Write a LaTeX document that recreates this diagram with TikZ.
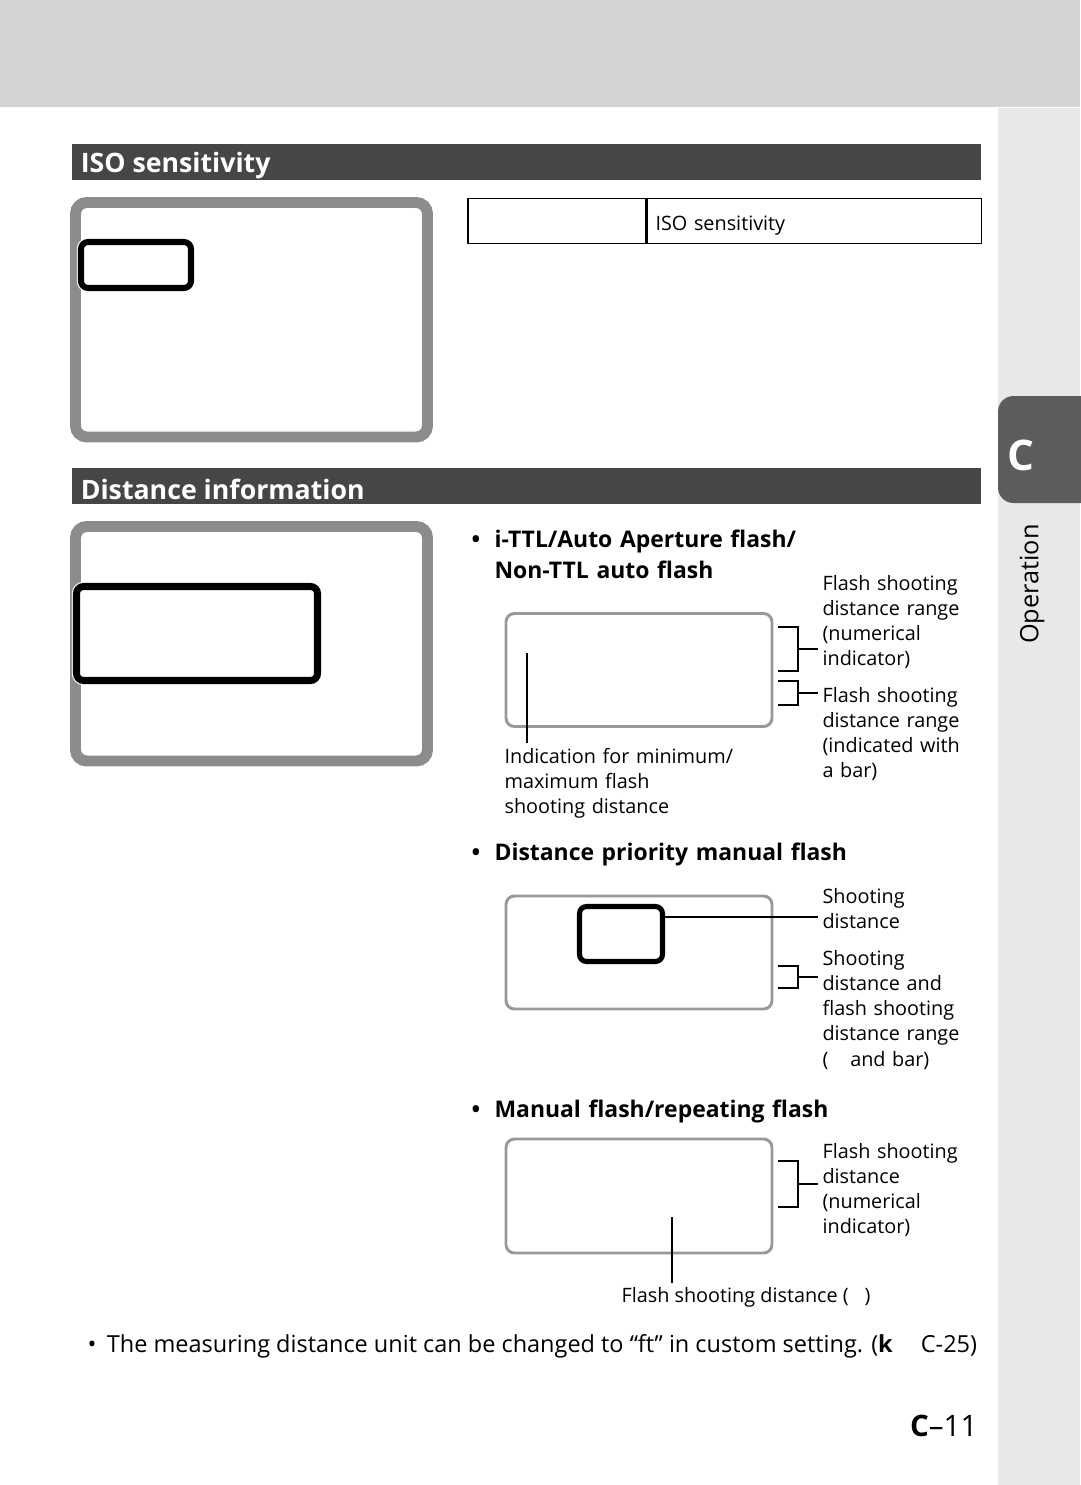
\documentclass[tikz,border=0pt]{standalone}
\usepackage{fontspec}
\setmainfont{Open Sans}
\usetikzlibrary{positioning}
\definecolor{bandgray}{HTML}{D3D3D3}
\definecolor{stripgray}{HTML}{E8E8E8}
\definecolor{tabgray}{HTML}{5C5C5C}
\definecolor{bargray}{HTML}{464646}
\definecolor{lcdgray}{HTML}{8C8C8C}
\definecolor{panelgray}{HTML}{999999}
\newcommand\lblfont{\fontsize{14.1}{17.9}\selectfont}
\newcommand\headfont{\bfseries\fontsize{16.3}{22}\selectfont}
\newcommand\barfont{\bfseries\fontsize{19}{21}\selectfont}
\newcommand\notefont{\fontsize{16.7}{20}\selectfont}
\begin{document}
\begin{tikzpicture}[x=0.025cm,y=-0.025cm,thick,
  pxbox/.style 2 args={minimum width=#1*0.025cm,minimum height=#2*0.025cm,inner sep=0pt},
  lcd/.style={draw=lcdgray,line width=7.8pt,rounded corners=8pt},
  segbox/.style={draw=black,line width=#1,rounded corners=5pt,preaction={draw=white,line width=#1+1.6pt}},
  panel/.style={draw=panelgray,line width=2.1pt,rounded corners=6pt},
  bar/.style={fill=bargray,pxbox={909}{36}},
  bartxt/.style={anchor=mid west,inner sep=0pt,text=white,font=\barfont,yshift=-2.6pt},
  cell/.style={draw,line width=0.8pt},
  brk/.style={line width=1.4pt},
  lead/.style={line width=1.4pt,shorten >=2.5pt},
  lbl/.style={anchor=mid west,inner sep=0pt,align=left,text width=6cm,font=\lblfont,yshift=-2.6pt},
  bul/.style={anchor=mid west,inner sep=0pt,align=left,text width=9cm,font=\headfont,yshift=-2.6pt},
  dot/.style={anchor=mid west,inner sep=0pt,font=\headfont,yshift=-2.6pt}]
\useasboundingbox (0,0) rectangle (1080,1485);
\fill[bandgray] (0,0) rectangle (1080,107);
\fill[stripgray] (998,108) rectangle (1080,1485);
\fill[tabgray,rounded corners=11pt] (998,396) rectangle (1110,503);
\node[text=white,font=\bfseries\fontsize{30}{30}\selectfont] (tabc) at (1021,455) {C};
\node[rotate=90,font=\fontsize{18}{20}\selectfont,inner sep=0pt] (tabop) at (1032,584) {Operation};

\node[bar] (isobar) at (526.5,162) {};
\node[bartxt,right=0.22cm of isobar.west] (isotxt) {ISO sensitivity};
\node[lcd,pxbox={352}{234.5}] (isolcd) at (251.5,319.75) {};
\node[segbox=4.3pt,pxbox={110}{46}] (isoseg) at (136,265) {};
\node[cell,pxbox={178}{45}] (cella) at (557,221) {};
\node[cell,pxbox={334}{45},right=0pt of cella] (cellb) {};
\node[lbl] (isolbl) at (655,223) {ISO sensitivity};

\node[bar] (distbar) at (526.5,486) {};
\node[bartxt,right=0.22cm of distbar.west] (disttxt) {Distance information};
\node[lcd,pxbox={352}{234.5}] (distlcd) at (251.5,643.75) {};
\node[segbox=5pt,pxbox={241}{94}] (distseg) at (197,633.5) {};

\node[dot] (d1) at (471,540) {•};
\node[bul] (h1) at (494,540) {i-TTL/Auto Aperture flash/\\Non-TTL auto flash};
\node[panel,pxbox={266}{113}] (p1) at (639,670) {};
\node[lbl] (l1a) at (822,583) {Flash shooting\\distance range\\(numerical\\indicator)};
\node[lbl] (l1b) at (822,695) {Flash shooting\\distance range\\(indicated with\\a bar)};
\node[lbl] (l1c) at (504,756) {Indication for minimum/\\maximum flash\\shooting distance};
\coordinate (b1t) at (778,627);
\coordinate (b1b) at (778,671);
\coordinate (b1) at (798,649);
\coordinate (b2t) at (778,681);
\coordinate (b2b) at (778,705);
\coordinate (b2) at (798,693);
\coordinate (m1) at (527,653);
\draw[brk] (b1t) -| (b1) |- (b1b);
\draw[lead] (b1) -- (b1 -| l1a.west);
\draw[brk] (b2t) -| (b2) |- (b2b);
\draw[lead] (b2) -- (b2 -| l1b.west);
\draw[brk] (m1) -- ([yshift=3pt]m1 |- l1c.north);

\node[dot] (d2) at (471,853) {•};
\node[bul] (h2) at (494,853) {Distance priority manual flash};
\node[panel,pxbox={266}{113}] (p2) at (639,952.5) {};
\node[segbox=3.6pt,pxbox={83}{55}] (p2seg) at (621,934) {};
\node[lbl] (l2a) at (822,896) {Shooting\\distance};
\node[lbl] (l2b) at (822,958) {Shooting\\distance and\\flash shooting\\distance range\\(\hspace{1.1em}and bar)};
\coordinate (s2) at (663,917);
\coordinate (b3t) at (778,966);
\coordinate (b3b) at (778,988);
\coordinate (b3) at (798,977);
\draw[lead] (s2) -- (s2 -| l2a.west);
\draw[brk] (b3t) -| (b3) |- (b3b);
\draw[lead] (b3) -- (b3 -| l2b.west);

\node[dot] (d3) at (471,1110) {•};
\node[bul] (h3) at (494,1110) {Manual flash/repeating flash};
\node[panel,pxbox={266}{114}] (p3) at (639,1196) {};
\node[lbl] (l3a) at (822,1151) {Flash shooting\\distance\\(numerical\\indicator)};
\node[anchor=mid west,inner sep=0pt,font=\lblfont,yshift=-2.6pt] (l3b) at (621,1295) {Flash shooting distance (\hspace{0.8em})};
\coordinate (b4t) at (778,1161);
\coordinate (b4b) at (778,1207);
\coordinate (b4) at (798,1184);
\coordinate (m3) at (672,1217);
\draw[brk] (b4t) -| (b4) |- (b4b);
\draw[lead] (b4) -- (b4 -| l3a.west);
\draw[brk] (m3) -- ([yshift=3pt]m3 |- l3b.north);

\node[anchor=mid west,inner sep=0pt,font=\notefont,yshift=-2.6pt] (note) at (87,1345) {•\hspace{0.45em}The measuring distance unit can be changed to “ft” in custom setting. (\textbf{k}\hspace{1.2em}C-25)};
\node[anchor=mid east,inner sep=0pt,font=\fontsize{21}{24}\selectfont,yshift=-3pt] (pg) at (978,1428) {\textbf{C}–11};
\end{tikzpicture}
\end{document}
